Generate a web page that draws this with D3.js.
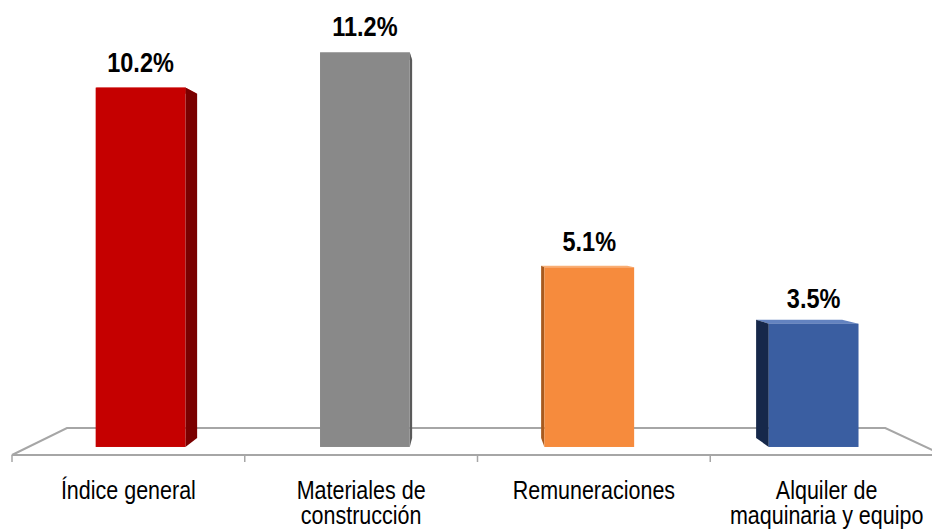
<!DOCTYPE html>
<html>
<head>
<meta charset="utf-8">
<script src="https://cdn.jsdelivr.net/npm/d3@7"></script>
<style>
  body { margin: 0; background: #fff; }
  text { font-family: "Liberation Sans", Arial, sans-serif; fill: #000; }
</style>
</head>
<body>
<div id="chart"></div>
<script>
// chart data
let categories = ["Índice general", "Materiales de construcción", "Remuneraciones", "Alquiler de maquinaria y equipo"];
let catLines = [["Índice general"], ["Materiales de", "construcción"], ["Remuneraciones"], ["Alquiler de", "maquinaria y equipo"]];
let values = [10.2, 11.2, 5.1, 3.5];
let valueLabels = ["10.2%", "11.2%", "5.1%", "3.5%"];
let frontColors = ["#C50000", "#898989", "#F68B3D", "#3A5EA1"];
let sideColors = ["#7A0000", "#5A5A5A", "#A85A1E", "#16284A"];
let topColors = ["#D93A3A", "#A6A6A6", "#F9AE74", "#6383C0"];

const width = 932, height = 530;
const narrow = 0.86;   // no Arial Narrow installed, squeeze the text instead

let svg = d3.select("#chart")
    .append("svg")
    .attr("width", width)
    .attr("height", height);

// pseudo 3d: points on a flat "plane" pulled toward a vanishing point by depth f
const vp = [466, 232];
function proj(px, py, f) {
    return [vp[0] + f * (px - vp[0]), vp[1] + f * (py - vp[1])];
}
function poly(pts) { return pts.map(p => p.join(",")).join(" "); }

const floorBack = 0.879, barFront = 0.964, barBack = 0.9237;

let x = d3.scaleBand()
    .domain(categories)
    .range([12, 943])
    .padding(0);

let y = d3.scaleLinear()
    .domain([0, 12.45])
    .range([455, 0]);

// floor
let x0f = x.range()[0], x1f = x.range()[1], yb = y(0);
svg.append("polygon")
    .attr("points", poly([proj(x0f, yb, 1), proj(x0f, yb, floorBack), proj(x1f, yb, floorBack), proj(x1f, yb, 1)]))
    .attr("fill", "#fff")
    .attr("stroke", "#a6a6a6")
    .attr("stroke-width", 2);

// ticks on the front edge
svg.append("g").selectAll("line")
    .data(categories.concat(["_end"]))
    .enter()
    .append("line")
    .attr("x1", (d, i) => i < categories.length ? x(d) : x1f)
    .attr("x2", (d, i) => i < categories.length ? x(d) : x1f)
    .attr("y1", yb)
    .attr("y2", yb + 7)
    .attr("stroke", "#a6a6a6")
    .attr("stroke-width", 1.5);

let bars = svg.append("g").selectAll("g")
    .data(values)
    .enter()
    .append("g");

bars.each(function(v, i) {
    let g = d3.select(this);
    let bw = x.bandwidth();
    let bx0 = x(categories[i]) + bw * 0.3, bx1 = bx0 + bw * 0.4;
    let by0 = y(0), by1 = y(v);

    // top face
    g.append("polygon")
        .attr("points", poly([proj(bx0, by1, barFront), proj(bx1, by1, barFront), proj(bx1, by1, barBack), proj(bx0, by1, barBack)]))
        .attr("fill", topColors[i]);

    // side face, on the side that faces the vanishing point
    let sx = bx1 < vp[0] ? bx1 : bx0;
    g.append("polygon")
        .attr("points", poly([proj(sx, by1, barFront), proj(sx, by1, barBack), proj(sx, by0, barBack), proj(sx, by0, barFront)]))
        .attr("fill", sideColors[i]);

    // front face
    let tl = proj(bx0, by1, barFront), br = proj(bx1, by0, barFront);
    g.append("rect")
        .attr("x", tl[0])
        .attr("y", tl[1])
        .attr("width", br[0] - tl[0])
        .attr("height", br[1] - tl[1])
        .attr("fill", frontColors[i]);

    // value label
    g.append("text")
        .attr("transform", `translate(${(tl[0] + br[0]) / 2}, ${tl[1] - 16}) scale(${narrow - 0.02}, 1)`)
        .style("text-anchor", "middle")
        .style("font-weight", "bold")
        .style("font-size", "28px")
        .text(valueLabels[i]);
});

// category labels
let labels = svg.append("g").selectAll("text")
    .data(categories)
    .enter()
    .append("text")
    .attr("transform", d => `translate(${x(d) + x.bandwidth() / 2}, 499) scale(${narrow}, 1)`)
    .style("text-anchor", "middle")
    .style("font-size", "25px");

labels.each(function(d, i) {
    let t = d3.select(this);
    catLines[i].forEach(function(line, j) {
        t.append("tspan")
            .attr("x", 0)
            .attr("dy", j === 0 ? 0 : 25)
            .text(line);
    });
});
</script>
</body>
</html>
